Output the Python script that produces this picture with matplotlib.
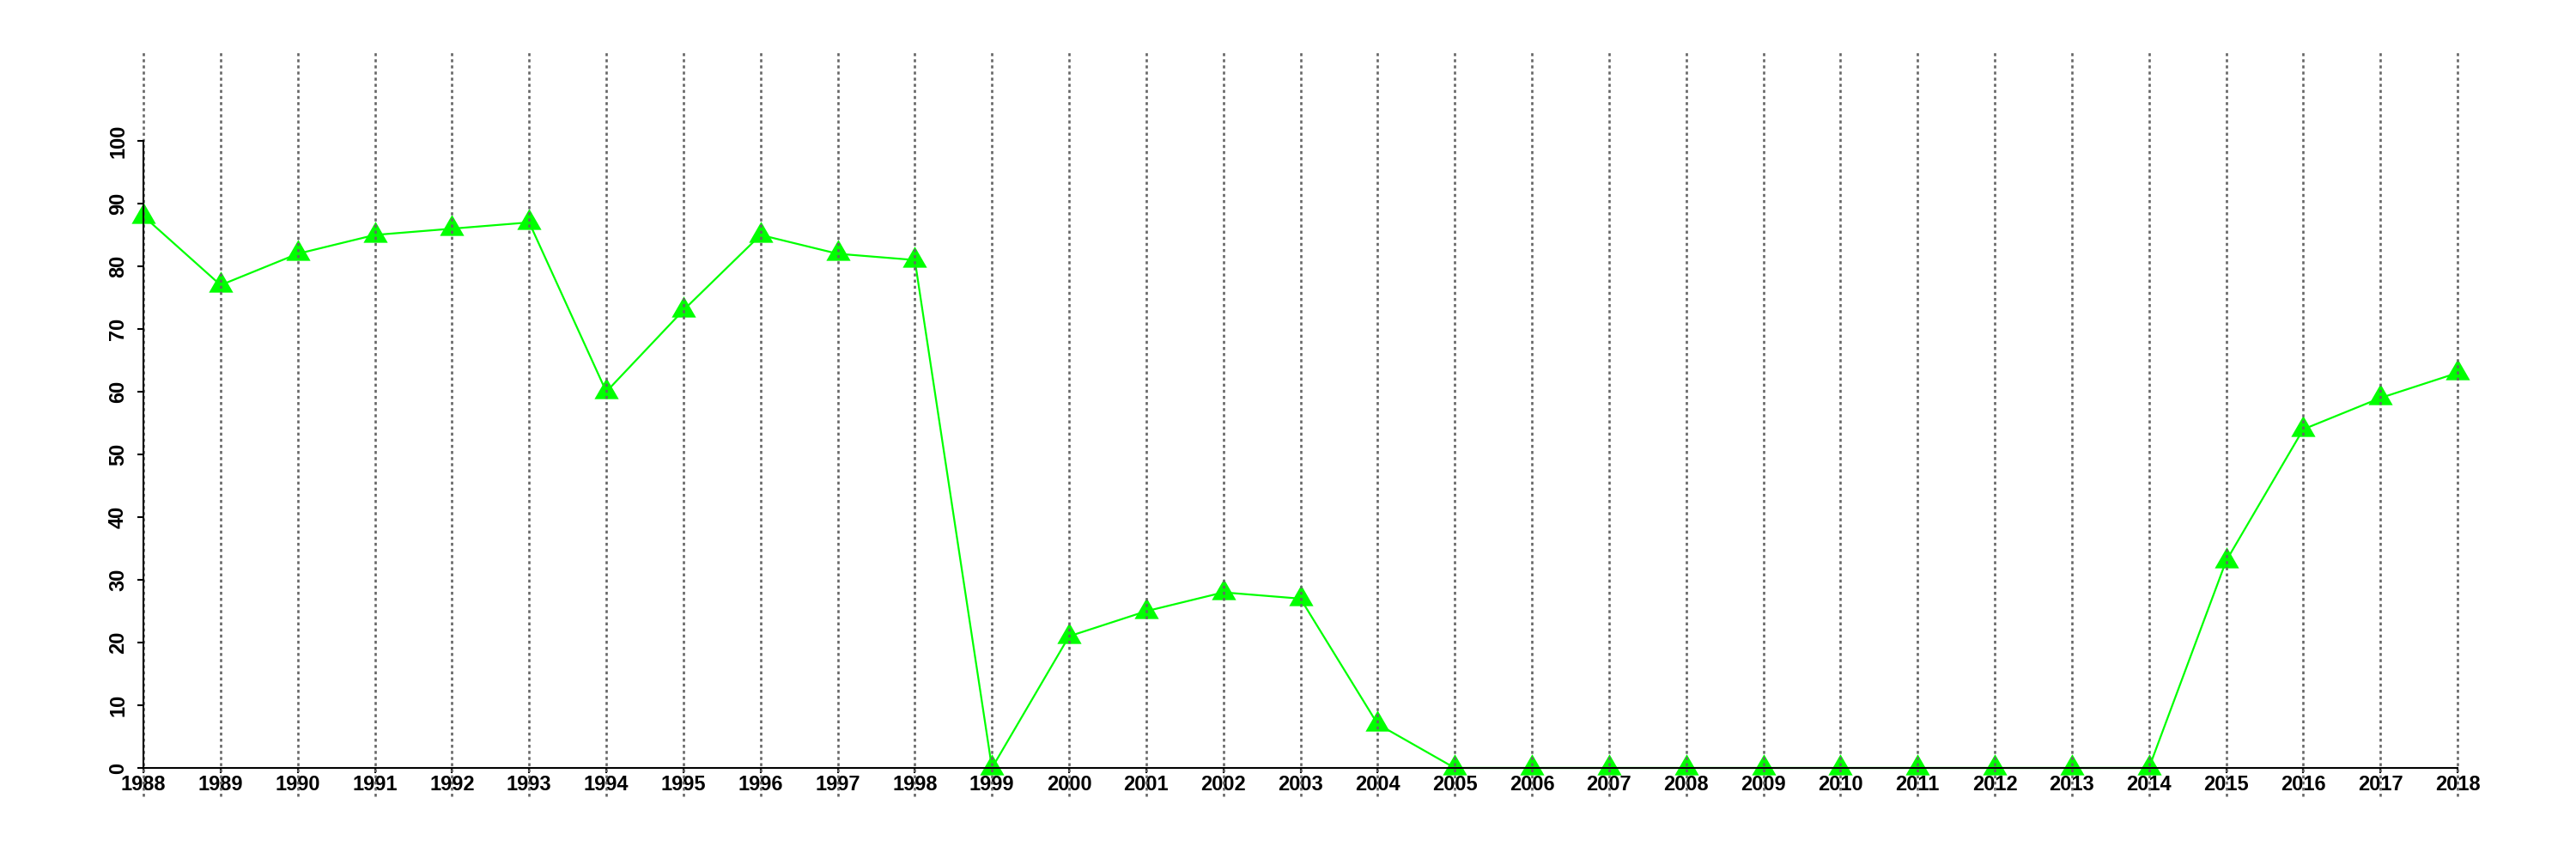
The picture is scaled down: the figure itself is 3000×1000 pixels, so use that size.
import matplotlib
matplotlib.use('Agg')
import matplotlib.pyplot as plt
import numpy as np

# data
years = list(range(1988, 2019))
values = [88, 77, 82, 85, 86, 87, 60, 73, 85, 82, 81,
          0, 21, 25, 28, 27, 7,
          0, 0, 0, 0, 0, 0, 0, 0, 0, 0,
          33, 54, 59, 63]
yticks = [0, 10, 20, 30, 40, 50, 60, 70, 80, 90, 100]

plt.rcParams['font.family'] = ['Liberation Sans', 'DejaVu Sans']
plt.rcParams['font.weight'] = 'bold'

fig = plt.figure(figsize=(30, 10), dpi=100)
ax = fig.add_axes([0.0557, 0.106, 0.8983, 0.730])

# equilateral triangle marker centred on its centroid
tri = [(-1, -0.577), (1, -0.577), (0, 1.155), (-1, -0.577)]
ax.plot(years, values, color='#00ff00', lw=1.6, marker=tri,
        markersize=23.5, markeredgewidth=0, clip_on=False, zorder=3)

# dotted vertical lines drawn on top, running past the plot box
for yr in years:
  ax.plot([yr, yr], [-4.5, 114.4], color='#666666', lw=1.9,
          linestyle=(0, (1.3, 1.4)), clip_on=False, zorder=4)

ax.set_xlim(1988, 2018)
ax.set_ylim(0, 100)
ax.set_xticks(years)
ax.set_xticklabels([str(y) for y in years])
ax.set_yticks(yticks)
ax.set_yticklabels([str(v) for v in yticks], rotation=90, va='center')

for s in ['top', 'right']:
  ax.spines[s].set_visible(False)
for s in ['left', 'bottom']:
  ax.spines[s].set_linewidth(1.5)
  ax.spines[s].set_zorder(5)

ax.tick_params(axis='x', length=4, width=1.5, pad=2, labelsize=17)
ax.tick_params(axis='y', length=5, width=1.5, pad=8, labelsize=17)

fig.savefig('out.png', dpi=100)
